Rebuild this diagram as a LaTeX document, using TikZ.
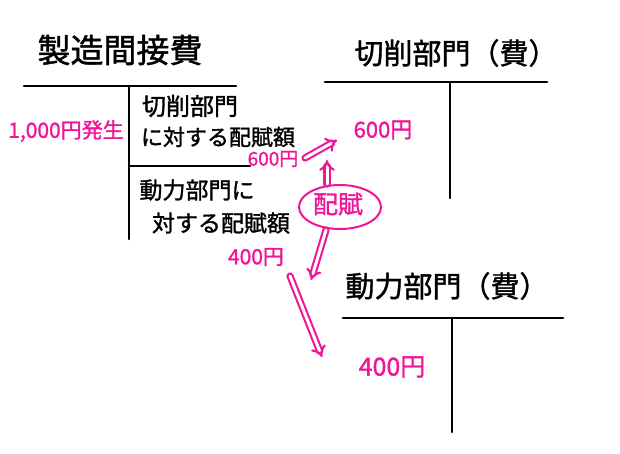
\documentclass[tikz,border=0pt]{standalone}
\usepackage{fontspec}
\setmainfont{Noto Sans CJK JP}[RawFeature={embolden=1.3}]
\usetikzlibrary{arrows,shapes.geometric}
\definecolor{pink}{RGB}{240,20,150}
\begin{document}
\begin{tikzpicture}[x=1pt,y=-1pt,
  tline/.style={line width=2.6pt,line cap=round,black},
  btxt/.style={inner sep=0pt,text=black},
  ptxt/.style={inner sep=0pt,text=pink},
  dbl/.style={draw=pink,double=white,line width=2.1pt,double distance=3pt,-implies,line cap=round}]
\useasboundingbox (0,0) rectangle (620,454);
% titles
\node[btxt,font=\fontsize{33}{33}\selectfont] (t1) at (120,50) {製造間接費};
\node[btxt,font=\fontsize{29}{29}\selectfont] (t2) at (456,53) {切削部門（費）};
\node[btxt,font=\fontsize{29}{29}\selectfont] (t3) at (447,286) {動力部門（費）};
% left T account
\coordinate (a1) at (24,86); \coordinate (a2) at (236,86);
\coordinate (a3) at (129,87); \coordinate (a4) at (129,239);
\coordinate (a5) at (129,166); \coordinate (a6) at (250,166);
\draw[tline] (a1) -- (a2);
\draw[tline] (a3) -- (a4);
\draw[tline] (a5) -- (a6);
% right T accounts
\coordinate (b1) at (325,82); \coordinate (b2) at (547,82);
\coordinate (b3) at (450,83); \coordinate (b4) at (450,198);
\draw[tline] (b1) -- (b2);
\draw[tline] (b3) -- (b4);
\coordinate (c1) at (343,318); \coordinate (c2) at (563,318);
\coordinate (c3) at (452,319); \coordinate (c4) at (452,432);
\draw[tline] (c1) -- (c2);
\draw[tline] (c3) -- (c4);
% texts in left account
\node[btxt,font=\fontsize{24}{24}\selectfont] (s1) at (190,106) {切削部門};
\node[btxt,font=\fontsize{22}{22}\selectfont] (s2) at (218,137) {に対する配賦額};
\node[btxt,font=\fontsize{23}{23}\selectfont] (s3) at (197,190) {動力部門に};
\node[btxt,font=\fontsize{23}{23}\selectfont] (s4) at (221,223) {対する配賦額};
% pink amounts
\node[ptxt,font=\fontsize{21}{21}\selectfont] (m1000) at (66,131) {1,000円発生};
\node[ptxt,font=\fontsize{19}{19}\selectfont] (m600a) at (273,159) {600円};
\node[ptxt,font=\fontsize{22}{22}\selectfont] (m600b) at (383,130) {600円};
\node[ptxt,font=\fontsize{21}{21}\selectfont] (m400a) at (256,257) {400円};
\node[ptxt,font=\fontsize{25}{25}\selectfont] (m400b) at (392,367) {400円};
% haifu ellipse
\node[text=pink,inner sep=0pt,font=\fontsize{25}{25}\selectfont] (haifu) at (338,204) {配賦};
\draw[pink,line width=2pt] (340,207) ellipse [x radius=41pt, y radius=22pt];
\coordinate (htop) at (327,184);
\coordinate (hbot) at (326,230);
% arrows
\coordinate (p1s) at (305,158); \coordinate (p1e) at (337,140);
\draw[dbl] (p1s) -- (p1e);
\coordinate (mid1) at (327,160);
\draw[dbl] (htop) -- (mid1);
\coordinate (p2s) at (290,276); \coordinate (p2e) at (322,357);
\draw[dbl] (p2s) -- (p2e);
\coordinate (mid2) at (311,280);
\draw[dbl] (hbot) -- (mid2);
\end{tikzpicture}
\end{document}
